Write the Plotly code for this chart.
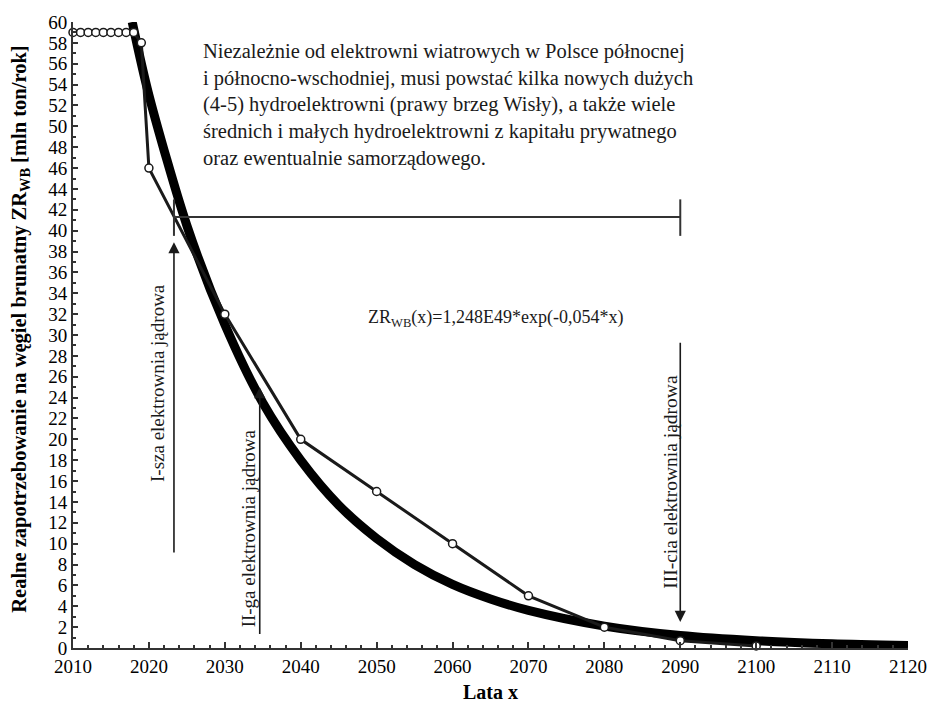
import plotly.graph_objects as go

# ---- data ----
data_years = [2010, 2011, 2012, 2013, 2014, 2015, 2016, 2017, 2018, 2019, 2020,
              2030, 2040, 2050, 2060, 2070, 2080, 2090, 2100]
data_values = [59, 59, 59, 59, 59, 59, 59, 59, 59, 58, 46,
               32, 20, 15, 10, 5, 2, 0.7, 0.2]

fit_years = [2017.8, 2020, 2025, 2030, 2035, 2040, 2045, 2050, 2055, 2060, 2065,
             2070, 2080, 2090, 2100, 2110, 2120]
fit_values = [60, 53, 40.5, 31, 23.5, 18, 13.7, 10.5, 8.0, 6.1, 4.7,
              3.6, 2.1, 1.2, 0.7, 0.4, 0.24]

x_ticks = [2010, 2020, 2030, 2040, 2050, 2060, 2070, 2080, 2090, 2100, 2110, 2120]
y_ticks = list(range(0, 61, 2))

# bracket (horizontal span) and nuclear plant arrows
bracket_x = [2023.3, 2090]
bracket_y = 41.3
bracket_cap = [39.5, 43.0]

arrow_x = [2023.3, 2034.6, 2090]
arrow_tail = [9.0, 1.2, 29.4]
arrow_tip = [38.9, 25.0, 2.5]
arrow_labels = ["I-sza elektrownia jądrowa", "II-ga elektrownia jądrowa",
                "III-cia elektrownia jądrowa"]
label_x = [2021.2, 2033.1, 2088.6]
label_y = [25.4, 11.5, 15.9]
label_sizes = [19, 19, 19.5]

note_text = ("Niezależnie od elektrowni wiatrowych w Polsce północnej<br>"
             "i północno-wschodniej, musi powstać kilka nowych dużych<br>"
             "(4-5) hydroelektrowni (prawy brzeg Wisły), a także wiele<br>"
             "średnich i małych hydroelektrowni z kapitału prywatnego<br>"
             "oraz ewentualnie samorządowego.")
note_pos = (2026.8, 58.5)
formula_text = "ZR<sub>WB</sub>(x)=1,248E49*exp(-0,054*x)"
formula_pos = (2048.6, 31.6)
y_title = "<b>Realne zapotrzebowanie na węgiel brunatny ZR<sub>WB</sub> [mln ton/rok]</b>"

FONT = "Times New Roman, Liberation Serif, DejaVu Serif, serif"
INK = "#1a1a1a"

fig = go.Figure()

fig.add_trace(go.Scatter(
    x=fit_years, y=fit_values, mode="lines",
    line=dict(color="black", width=9, shape="spline", smoothing=0.8),
    hoverinfo="skip", showlegend=False))

fig.add_trace(go.Scatter(
    x=data_years, y=data_values, mode="lines+markers",
    line=dict(color=INK, width=3),
    marker=dict(symbol="circle", size=8, color="white",
                line=dict(color=INK, width=1.5)),
    showlegend=False, cliponaxis=False))

# bracket
fig.add_trace(go.Scatter(x=bracket_x, y=[bracket_y, bracket_y], mode="lines",
                         line=dict(color="#333333", width=2), showlegend=False))
for bx in bracket_x:
    fig.add_trace(go.Scatter(x=[bx, bx], y=bracket_cap, mode="lines",
                             line=dict(color="#333333", width=2), showlegend=False))

annotations = []
for ax_, t0, t1 in zip(arrow_x, arrow_tail, arrow_tip):
    annotations.append(dict(
        x=ax_, y=t1, ax=ax_, ay=t0, xref="x", yref="y", axref="x", ayref="y",
        showarrow=True, arrowhead=2, arrowsize=1.4, arrowwidth=1.6,
        arrowcolor=INK, text=""))
for lx, ly, lt, ls in zip(label_x, label_y, arrow_labels, label_sizes):
    annotations.append(dict(
        x=lx, y=ly, xref="x", yref="y", text=lt, textangle=-90,
        showarrow=False, font=dict(family=FONT, size=ls, color=INK)))

annotations.append(dict(
    x=note_pos[0], y=note_pos[1], xref="x", yref="y", text=note_text,
    xanchor="left", yanchor="top", align="left", showarrow=False,
    font=dict(family=FONT, size=20.5, color=INK)))
annotations.append(dict(
    x=formula_pos[0], y=formula_pos[1], xref="x", yref="y", text=formula_text,
    xanchor="left", yanchor="middle", showarrow=False,
    font=dict(family=FONT, size=18, color=INK)))
annotations.append(dict(
    x=-0.063, y=0.509, xref="paper", yref="paper", text=y_title,
    textangle=-90, xanchor="center", yanchor="middle", showarrow=False,
    font=dict(family=FONT, size=20.5, color="black")))

fig.update_layout(
    width=939, height=716, autosize=False,
    margin=dict(l=73, r=23, t=14, b=68),
    paper_bgcolor="white", plot_bgcolor="white",
    font=dict(family=FONT, color="black"),
    annotations=annotations,
    xaxis=dict(
        range=[2010, 2120], tickvals=x_ticks, showgrid=False, zeroline=False,
        showline=True, linecolor="#333333", linewidth=2,
        ticks="inside", ticklen=6, tickwidth=2, tickcolor="#333333",
        minor=dict(dtick=2, tick0=2010, ticks="inside", ticklen=3, tickwidth=1.5,
                   tickcolor="#333333", showgrid=False),
        tickfont=dict(family=FONT, size=19, color="black"),
        title=dict(text="<b>Lata x</b>", standoff=9,
                   font=dict(family=FONT, size=20, color="black")),
    ),
    yaxis=dict(
        range=[0, 60], tickvals=y_ticks, showgrid=False, zeroline=False,
        showline=True, linecolor="#333333", linewidth=2,
        ticks="inside", ticklen=5, tickwidth=2, tickcolor="#333333",
        minor=dict(dtick=1, tick0=0, ticks="inside", ticklen=3, tickwidth=1.5,
                   tickcolor="#333333", showgrid=False),
        tickfont=dict(family=FONT, size=19, color="black"),
    ),
)

fig.write_html("out.html")
